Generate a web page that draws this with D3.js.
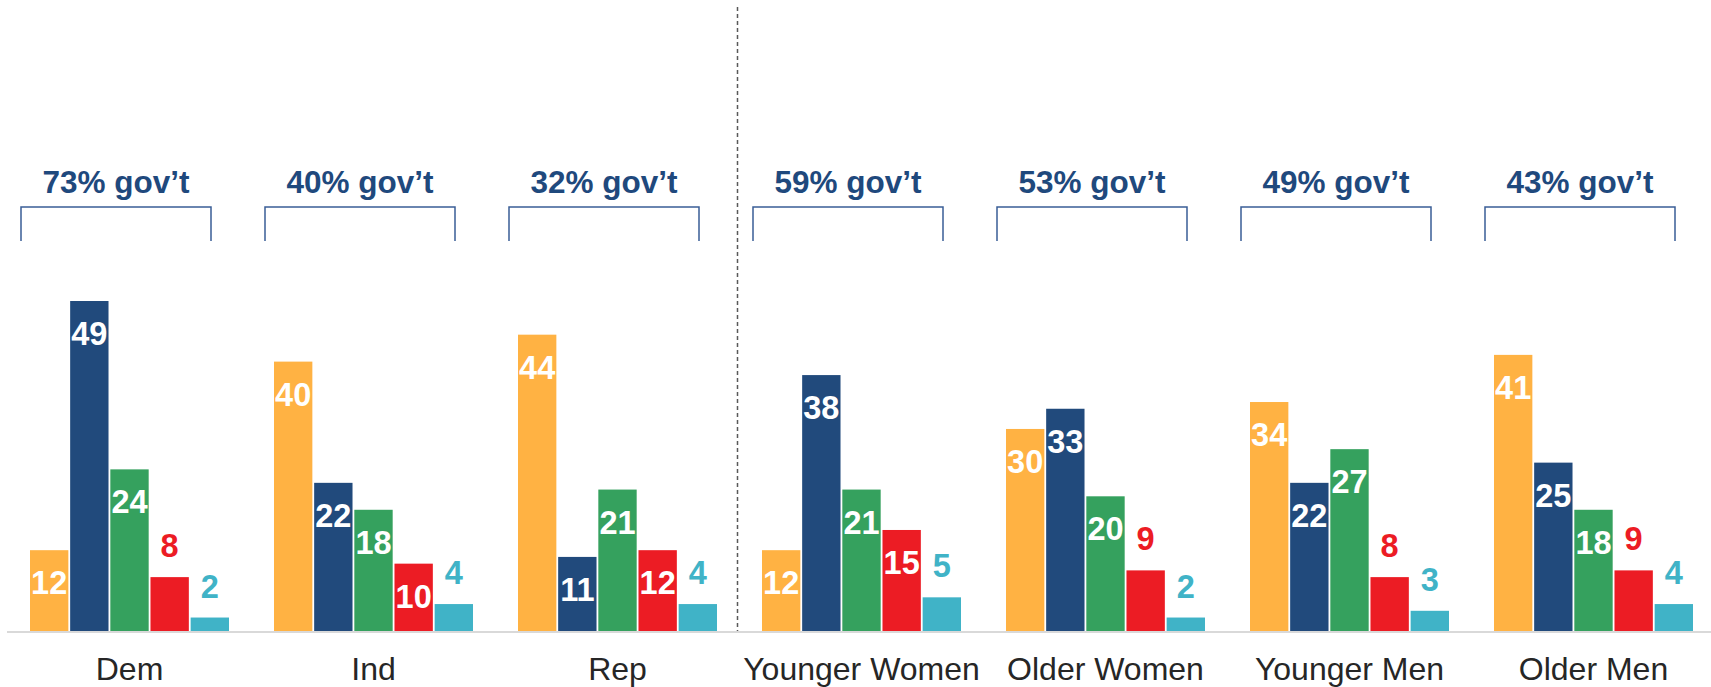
<!DOCTYPE html>
<html><head><meta charset="utf-8">
<script src="https://cdn.jsdelivr.net/npm/d3@7"></script>
<style>body{margin:0;background:#fff}svg{display:block}</style>
</head><body>
<script>
const categories = ["Dem","Ind","Rep","Younger Women","Older Women","Younger Men","Older Men"];
const seriesKeys = ["s1","s2","s3","s4","s5"];
const seriesColors = ["#FFB243","#214A7C","#35A15E","#EC1C24","#40B3C7"];
const s1 = [12,40,44,12,30,34,41];
const s2 = [49,22,11,38,33,22,25];
const s3 = [24,18,21,21,20,27,18];
const s4 = [8,10,12,15,9,8,9];
const s5 = [2,4,4,5,2,3,4];
const govt = [73,40,32,59,53,49,43];
const govtLabels = govt.map(v => v + "% gov\u2019t");
const seriesValues = [s1,s2,s3,s4,s5];

const W = 1711, H = 687;
const svg = d3.select("body").append("svg").attr("width", W).attr("height", H);

const x0 = d3.scaleBand().domain(categories).range([30, 1693]).paddingInner(45/244).paddingOuter(0);
const x1 = d3.scaleBand().domain(seriesKeys).range([0, x0.bandwidth()]).paddingInner(0.045).paddingOuter(0);
const y = d3.scaleLinear().domain([0, 49]).range([631, 301]);

// baseline
svg.append("line").attr("x1", 7).attr("x2", W).attr("y1", y(0) + 1).attr("y2", y(0) + 1)
  .attr("stroke", "#D9D9D9").attr("stroke-width", 2);

// divider
const divX = (x0("Rep") + x0.bandwidth() + x0("Younger Women")) / 2 - 2;
svg.append("line").attr("x1", divX).attr("x2", divX).attr("y1", 7).attr("y2", y(0))
  .attr("stroke", "#595959").attr("stroke-width", 1.5).attr("stroke-dasharray", "4,3");

const groups = svg.selectAll("g.grp").data(categories).join("g")
  .attr("class", "grp").attr("transform", d => `translate(${x0(d)},0)`);

groups.each(function(cat, ci) {
  const g = d3.select(this);
  seriesKeys.forEach((k, si) => {
    const v = seriesValues[si][ci];
    const bx = x1(k), bw = x1.bandwidth();
    g.append("rect").attr("x", bx).attr("y", y(v)).attr("width", bw).attr("height", y(0) - y(v))
      .attr("fill", seriesColors[si]);
    const inside = v >= 10;
    g.append("text").attr("x", bx + bw / 2)
      .attr("y", inside ? y(v) + 44 : y(v) - 20)
      .attr("text-anchor", "middle")
      .attr("font-family", "'Liberation Sans', Arial, sans-serif")
      .attr("font-weight", "bold").attr("font-size", 32.5)
      .attr("fill", inside ? "#FFFFFF" : seriesColors[si])
      .text(v);
  });
  // bracket
  const bl = -9, br = 181;
  g.append("path").attr("d", `M${bl},241V207H${br}V241`).attr("fill", "none")
    .attr("stroke", "#3A5E96").attr("stroke-width", 1.5);
  g.append("text").attr("x", (bl + br) / 2).attr("y", 193).attr("text-anchor", "middle")
    .attr("font-family", "'Liberation Sans', Arial, sans-serif")
    .attr("font-weight", "bold").attr("font-size", 31.5).attr("fill", "#1F497D")
    .text(govtLabels[ci]);
  // category label
  g.append("text").attr("x", x0.bandwidth() / 2).attr("y", 680).attr("text-anchor", "middle")
    .attr("font-family", "'Liberation Sans', Arial, sans-serif")
    .attr("font-size", 32).attr("fill", "#262626")
    .text(cat);
});
</script>
</body></html>
